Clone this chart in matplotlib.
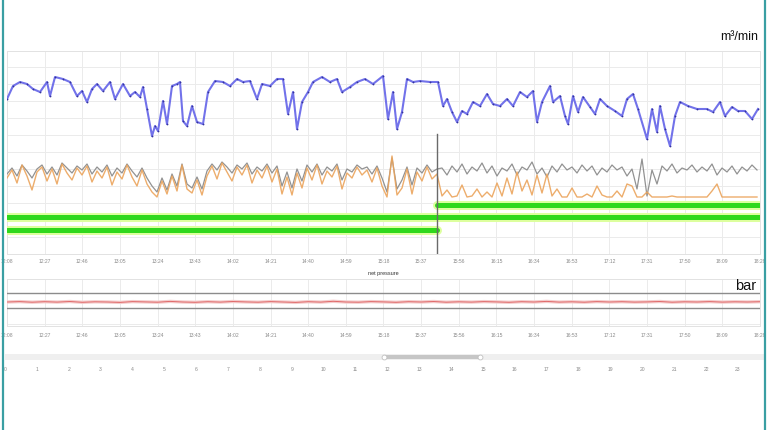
import numpy as np
import matplotlib
matplotlib.use("Agg")
import matplotlib.pyplot as plt
from matplotlib.lines import Line2D

# ---------------- data ----------------
# top panel: flow (m3/min), time in chart units
t_blue = [0, 6, 13, 20, 26, 33, 40, 43, 48, 56, 63, 70, 75, 80, 85, 90, 96, 103, 108, 116,
          123, 128, 133, 136, 140, 145, 148, 151, 156, 160, 165, 170, 173, 176, 180, 185, 190,
          196, 201, 208, 216, 223, 230, 236, 243, 250, 255, 263, 270, 276, 281, 286, 290, 295,
          301, 306, 315, 323, 330, 335, 343, 350, 358, 366, 376, 381, 386, 390, 395, 400, 406,
          413, 423, 431, 436, 440, 445, 450, 455, 460, 466, 473, 480, 486, 493, 500, 506, 513,
          520, 526, 530, 535, 543, 546, 553, 558, 561, 566, 571, 576, 583, 588, 593, 600, 608,
          615, 620, 626, 631, 640, 645, 650, 653, 658, 663, 668, 673, 681, 690, 700, 706, 713,
          718, 725, 731, 738, 745, 751]
flow_blue = [15.5, 16.8, 17.2, 17.0, 16.5, 16.2, 17.2, 15.8, 17.7, 17.5, 17.2, 15.8, 16.3, 15.2,
             16.5, 17.0, 16.3, 17.2, 15.5, 17.0, 15.8, 16.2, 15.7, 16.7, 14.5, 11.8, 12.8, 12.3,
             15.3, 13.0, 16.8, 17.0, 17.2, 13.3, 12.8, 14.8, 13.2, 13.0, 16.2, 17.3, 17.2, 16.8,
             17.5, 17.2, 17.3, 15.5, 17.0, 16.8, 17.5, 17.5, 14.0, 16.2, 12.5, 15.2, 16.2, 17.2,
             17.7, 17.2, 17.5, 16.2, 16.7, 17.2, 17.5, 17.0, 17.8, 13.5, 16.2, 12.5, 14.2, 17.5,
             17.2, 17.3, 17.2, 17.2, 14.8, 15.5, 14.2, 13.2, 14.3, 14.0, 15.2, 14.8, 16.0, 15.0,
             14.8, 15.5, 14.8, 16.2, 15.7, 16.3, 13.2, 15.2, 16.8, 15.2, 15.8, 13.8, 13.0, 15.8,
             14.2, 15.7, 14.7, 14.0, 15.5, 14.8, 14.3, 13.8, 15.5, 16.0, 14.5, 11.5, 14.5, 12.2,
             14.8, 12.5, 10.8, 13.8, 15.2, 14.8, 14.5, 14.5, 14.2, 15.2, 13.8, 14.7, 14.3, 14.3,
             13.5, 14.5]

sample_step = 5  # orange / grey sampled every 5 time units
flow_orange = [7.6, 8.4, 7.1, 8.9, 7.8, 6.4, 8.2, 8.7, 7.3, 8.5, 7.0, 9.0, 8.1, 7.4, 8.6, 7.9,
               8.8, 7.2, 8.3, 7.6, 8.7, 6.9, 8.2, 7.5, 8.9, 7.7, 6.8, 8.4, 7.0, 6.2, 5.7, 7.3,
               6.0, 7.8, 6.3, 8.9, 6.5, 6.1, 7.4, 5.9, 7.8, 8.8, 7.5, 9.1, 8.2, 7.3, 8.7, 7.9,
               8.9, 7.1, 8.4, 7.6, 8.8, 7.2, 8.5, 6.0, 7.7, 5.9, 8.1, 6.6, 8.6, 7.4, 8.9, 7.0,
               8.3, 7.7, 8.8, 6.5, 8.1, 7.6, 8.7, 7.9, 8.4, 7.2, 8.6, 6.8, 5.7, 9.8, 5.9, 6.6,
               8.5, 6.0, 8.2, 7.3, 8.7, 7.5, 8.0,
               5.8, 6.4, 5.7, 5.8, 6.9, 5.7, 5.8, 6.5, 5.7, 6.2, 5.7, 7.1, 5.8, 7.6, 6.0, 8.2,
               6.3, 7.4, 5.9, 7.9, 6.1, 8.0, 5.8, 6.5, 5.7, 5.7, 6.6, 5.7, 5.7, 6.0, 5.7, 6.8,
               5.9, 5.7, 5.7, 6.3, 5.7, 7.0, 6.8, 5.7, 5.7, 6.2, 5.7, 5.7, 5.7, 5.7, 5.8, 5.7,
               5.7, 5.7, 5.7, 5.7, 5.7, 5.7, 6.3, 7.0, 5.7, 5.7, 5.7, 5.7, 5.7, 5.7, 5.7, 5.7]
flow_grey = [8.0, 8.6, 7.8, 8.9, 8.3, 7.6, 8.5, 8.9, 8.0, 8.7, 7.9, 9.1, 8.6, 8.1, 8.8, 8.4,
             9.0, 8.0, 8.7, 8.2, 8.9, 7.8, 8.6, 8.1, 9.0, 8.3, 7.7, 8.6, 7.6, 6.8, 6.2, 7.6,
             6.4, 8.0, 6.8, 9.0, 7.0, 6.6, 7.7, 6.5, 8.3, 9.0, 8.4, 9.2, 8.7, 8.1, 8.9, 8.5,
             9.1, 8.0, 8.7, 8.3, 9.0, 8.1, 8.8, 6.8, 8.2, 6.6, 8.5, 7.3, 8.9, 8.2, 9.0, 7.9,
             8.7, 8.3, 9.0, 7.4, 8.5, 8.2, 8.9, 8.5, 8.7, 8.0, 8.8, 7.6, 6.2, 9.6, 6.5, 7.4,
             8.7, 6.9, 8.6, 8.1, 8.9, 8.2, 8.5,
             8.6, 7.9, 8.8, 8.2, 9.0, 8.0, 8.7, 8.3, 9.1, 8.1, 8.8, 7.8, 8.6, 8.3, 9.0, 7.9,
             8.7, 8.4, 9.2, 8.0, 8.6, 7.7, 8.8, 8.2, 9.0, 8.4, 8.7, 8.1, 8.9, 8.3, 8.8, 7.9,
             8.6, 8.2, 8.9, 8.4, 8.7, 7.8, 8.5, 6.5, 9.5, 5.8, 8.4, 7.0, 8.8, 8.3, 9.0, 8.1,
             8.6, 8.4, 8.9, 8.2, 8.7, 8.3, 9.0, 7.9, 8.6, 8.2, 8.8, 8.0, 8.7, 8.3, 8.9, 8.4]

t_end = 753
t_switch = 430
green_common = 3.75
green_before = 2.4
green_after = 4.9
marker_top = 12.0

time_labels = ["12:08", "12:27", "12:46", "13:05", "13:24", "13:43", "14:02", "14:21",
               "14:40", "14:59", "15:18", "15:37", "15:56", "16:15", "16:34", "16:53",
               "17:12", "17:31", "17:50", "18:09", "18:28"]
tick_step = 37.65

# bottom panel: net pressure (bar)
p_upper = 7.3
p_lower = 5.8
pressure = [6.40, 6.44, 6.38, 6.43, 6.39, 6.45, 6.37, 6.42, 6.40, 6.36, 6.44, 6.41, 6.38,
            6.46, 6.40, 6.37, 6.43, 6.39, 6.45, 6.41, 6.38, 6.44, 6.40, 6.36, 6.43, 6.39,
            6.47, 6.40, 6.38, 6.44, 6.41, 6.37, 6.43, 6.40, 6.45, 6.38, 6.42, 6.39, 6.44,
            6.41, 6.37, 6.43, 6.40, 6.46, 6.39, 6.42, 6.38, 6.44, 6.40, 6.43, 6.39, 6.41,
            6.45, 6.38, 6.42, 6.40, 6.44, 6.39, 6.42, 6.40, 6.43]

# overview scroller (hours)
hours = list(range(24))
window_start = 11.9
window_end = 14.9

# ---------------- drawing ----------------
W, H = 768, 431
fig = plt.figure(figsize=(W / 100, H / 100), dpi=100)
plt.rcParams['font.family'] = ['Liberation Sans', 'DejaVu Sans']

def px_axes(x0, y0, x1, y1):
    return fig.add_axes([x0 / W, 1 - y1 / H, (x1 - x0) / W, (y1 - y0) / H])

grid_c = '#ebebeb'
lab_c = '#8a8a8a'

# top panel
ax = px_axes(7, 52, 760, 255)
ax.set_xlim(0, t_end)
ax.set_ylim(0, 20.3)
xt = np.arange(len(time_labels)) * tick_step
ax.set_xticks(xt)
ax.set_xticklabels(time_labels, fontsize=3.6, color=lab_c)
ax.set_yticks(np.arange(0, 20.3, 1.7))
ax.set_yticklabels([])
ax.tick_params(length=0, pad=3)
ax.grid(True, color=grid_c, lw=0.7)
for s in ax.spines.values():
    s.set_color('#e2e2e2'); s.set_linewidth(0.7)

t_og = np.arange(len(flow_orange)) * sample_step
ax.plot(t_og, flow_grey, color='#929292', lw=0.9, zorder=3)
ax.plot(t_og, flow_orange, color='#eba45c', lw=1.0, alpha=0.9, zorder=4)
ax.plot(t_blue, flow_blue, color='#7272ea', lw=1.5, zorder=5)
ax.plot(t_blue, flow_blue, 'o', color='#34349e', ms=1.3, mew=0, zorder=6)

for (xa, xb, yv) in [(0, t_end, green_common), (0, t_switch, green_before), (t_switch, t_end, green_after)]:
    ax.plot([xa, xb], [yv, yv], color='#ddff9e', lw=6.5, solid_capstyle='round', zorder=6)
    ax.plot([xa, xb], [yv, yv], color='#2fd81c', lw=3.6, solid_capstyle='round', zorder=7)
ax.plot([t_switch, t_switch], [0, marker_top], color='#6a6a6a', lw=1.0, zorder=8)

fig.text(758 / W, 1 - 37 / H, "m³/min", ha='right', va='center', fontsize=9, color='#111111')

# bottom panel
bx = px_axes(7, 280, 760, 327)
bx.set_xlim(0, t_end)
bx.set_ylim(4.0, 8.7)
bx.set_xticks(xt)
bx.set_xticklabels(time_labels, fontsize=3.6, color=lab_c)
bx.set_yticks([4.2, 7.3, 8.7])
bx.set_yticklabels([])
bx.tick_params(length=0, pad=4)
bx.grid(True, color=grid_c, lw=0.7)
for s in bx.spines.values():
    s.set_color('#e2e2e2'); s.set_linewidth(0.7)
bx.axhline(p_upper, color='#8c8c8c', lw=1.0, zorder=3)
bx.axhline(p_lower, color='#8c8c8c', lw=1.0, zorder=3)
t_p = np.linspace(0, t_end, len(pressure))
bx.plot(t_p, pressure, color='#f4cccc', lw=2.4, zorder=4)
bx.plot(t_p, pressure, color='#e06a6a', lw=0.7, zorder=5)
fig.text(383 / W, 1 - 274 / H, "net pressure", ha='center', va='center', fontsize=4, color='#333333')
fig.text(756 / W, 1 - 286 / H, "bar", ha='right', va='center', fontsize=10.5, color='#111111')

# scroller
sx = px_axes(5, 355, 765, 361)
sx.set_xlim(0, 23.85)
sx.set_ylim(0, 1)
sx.set_facecolor('#efefef')
sx.barh(0.5, window_end - window_start, left=window_start, height=0.8, color='#c6c6c6')
for xv in (window_start, window_end):
    sx.plot(xv, 0.5, 'o', ms=3.5, mfc='white', mec='#c0c0c0', mew=0.6)
sx.set_xticks(hours)
sx.set_xticklabels([str(h) for h in hours], fontsize=3.6, color=lab_c)
sx.set_yticks([])
sx.tick_params(length=0, pad=4)
for s in sx.spines.values():
    s.set_visible(False)

# frame borders
fig.add_artist(Line2D([3 / W, 3 / W], [0, 1], color='#3a9fa3', lw=1.6))
fig.add_artist(Line2D([765 / W, 765 / W], [0, 1], color='#3a9fa3', lw=1.6))

fig.savefig("out.png", dpi=100)
